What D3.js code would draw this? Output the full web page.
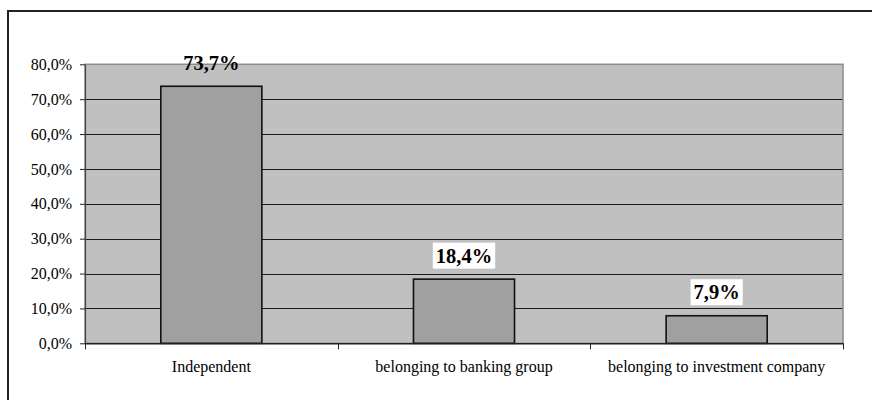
<!DOCTYPE html>
<html>
<head>
<meta charset="utf-8">
<script src="https://cdn.jsdelivr.net/npm/d3@7"></script>
<style>
  html, body { margin: 0; padding: 0; background: #fff; }
  svg { display: block; }
</style>
</head>
<body>
<svg id="chart" width="872" height="400"></svg>
<script>
// Ownership structure shares
const categories = ["Independent", "belonging to banking group", "belonging to investment company"];
const shares = [73.7, 18.4, 7.9];
const yTicks = [0, 10, 20, 30, 40, 50, 60, 70, 80];

const fmt = v => v.toFixed(1).replace(".", ",") + "%";

const svg = d3.select("#chart");
const font = "'Liberation Serif', 'Times New Roman', serif";

const plot = { left: 85, right: 843, top: 64.3, bottom: 343.3 };

// Outer chart frame (continues past the right and bottom edges)
svg.append("rect")
  .attr("x", 8).attr("y", 11)
  .attr("width", 900).attr("height", 420)
  .attr("fill", "none")
  .attr("stroke", "#222").attr("stroke-width", 2);

const y = d3.scaleLinear().domain([0, 80]).range([plot.bottom, plot.top]);
const xCat = d3.scaleBand().domain(categories).range([plot.left, plot.right]).padding(0);
const xBar = d3.scaleBand().domain(categories).range([plot.left, plot.right])
  .paddingInner(0.6).paddingOuter(0.3);

// Plot background
svg.append("rect")
  .attr("x", plot.left).attr("y", plot.top)
  .attr("width", plot.right - plot.left).attr("height", plot.bottom - plot.top)
  .attr("fill", "#c0c0c0");

// Horizontal gridlines
svg.append("g")
  .selectAll("line")
  .data(yTicks.filter(t => t > 0 && t < 80))
  .join("line")
  .attr("x1", plot.left).attr("x2", plot.right)
  .attr("y1", d => Math.round(y(d)) + 0.5).attr("y2", d => Math.round(y(d)) + 0.5)
  .attr("stroke", "#1a1a1a").attr("stroke-width", 1);

// Plot border
svg.append("rect")
  .attr("x", plot.left).attr("y", plot.top)
  .attr("width", plot.right - plot.left).attr("height", plot.bottom - plot.top)
  .attr("fill", "none")
  .attr("stroke", "#8c8c8c").attr("stroke-width", 1.5);

// Bars
svg.append("g")
  .selectAll("rect")
  .data(shares)
  .join("rect")
  .attr("x", (d, i) => xBar(categories[i]))
  .attr("y", d => y(d))
  .attr("width", xBar.bandwidth())
  .attr("height", d => plot.bottom - y(d))
  .attr("fill", "#a0a0a0")
  .attr("stroke", "#111").attr("stroke-width", 1.6);

// Y axis
const yAxis = svg.append("g")
  .attr("transform", `translate(${plot.left},0)`)
  .call(d3.axisLeft(y).tickValues(yTicks).tickFormat(fmt).tickSize(5).tickSizeOuter(0));
yAxis.select(".domain").attr("stroke", "#444").attr("stroke-width", 1.2);
yAxis.selectAll(".tick line").attr("stroke", "#222");
yAxis.selectAll(".tick text")
  .attr("x", -13)
  .attr("fill", "#000")
  .style("font-family", font).style("font-size", "16px");

// X axis
const xAxis = svg.append("g")
  .attr("transform", `translate(0,${plot.bottom})`)
  .call(d3.axisBottom(xCat).tickSize(0).tickSizeOuter(0));
xAxis.select(".domain").attr("stroke", "#222").attr("stroke-width", 1.4);
xAxis.selectAll(".tick text")
  .attr("y", 29)
  .attr("dy", 0)
  .attr("fill", "#000")
  .style("font-family", font).style("font-size", "16px");

// Category separators below the axis
svg.append("g")
  .selectAll("line")
  .data(categories.map(c => xCat(c)).concat([plot.right]))
  .join("line")
  .attr("x1", d => Math.round(d) + 0.5).attr("x2", d => Math.round(d) + 0.5)
  .attr("y1", plot.bottom).attr("y2", plot.bottom + 6)
  .attr("stroke", "#222");

// Value labels
const labels = svg.append("g")
  .selectAll("g")
  .data(shares)
  .join("g")
  .attr("transform", (d, i) =>
    `translate(${xBar(categories[i]) + xBar.bandwidth() / 2},${y(d) - 16.5})`);

labels.append("text")
  .attr("text-anchor", "middle")
  .attr("fill", "#000")
  .style("font-family", font).style("font-size", "20.5px").style("font-weight", "bold")
  .text(d => fmt(d));

// White backdrop behind labels that sit fully inside the plot
labels.each(function(d) {
  const g = d3.select(this);
  const bb = g.select("text").node().getBBox();
  const top = y(d) - 16.5 + bb.y - 2;
  if (top > plot.top + 2) {
    g.insert("rect", "text")
      .attr("x", bb.x - 3).attr("y", bb.y - 2)
      .attr("width", bb.width + 6).attr("height", bb.height + 4)
      .attr("fill", "#fff");
  }
});
</script>
</body>
</html>
